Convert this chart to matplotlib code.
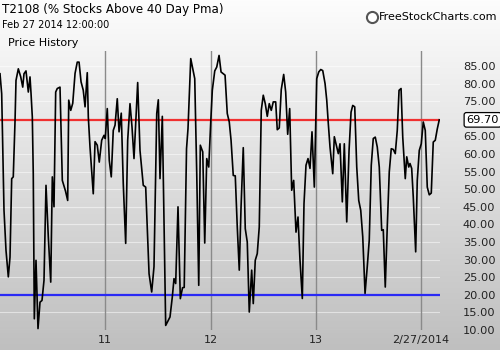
import numpy as np
import matplotlib
matplotlib.use("Agg")
import matplotlib.pyplot as plt

# years since Jan 2010
t = [0.000, 0.016, 0.038, 0.057, 0.079, 0.095, 0.111, 0.126, 0.143, 0.152,
     0.174, 0.197, 0.216, 0.228, 0.247, 0.269, 0.285, 0.295, 0.307, 0.316,
     0.326, 0.342, 0.361, 0.380, 0.399, 0.418, 0.437, 0.459, 0.482, 0.497,
     0.513, 0.529, 0.544, 0.570, 0.592, 0.622, 0.643, 0.653, 0.672, 0.691,
     0.713, 0.734, 0.751, 0.770, 0.791, 0.808, 0.829, 0.839, 0.855, 0.886,
     0.903, 0.924, 0.943, 0.966, 0.988, 1.000, 1.019, 1.038, 1.057, 1.076,
     1.093, 1.114, 1.131, 1.152, 1.171, 1.194, 1.213, 1.235, 1.254, 1.273,
     1.292, 1.308, 1.330, 1.361, 1.384, 1.416, 1.441, 1.463, 1.489, 1.504,
     1.520, 1.542, 1.574, 1.599, 1.615, 1.637, 1.653, 1.669, 1.691, 1.713,
     1.734, 1.750, 1.772, 1.786, 1.812, 1.850, 1.869, 1.888, 1.903, 1.926,
     1.945, 1.964, 1.983, 2.002, 2.017, 2.040, 2.059, 2.081, 2.100, 2.138,
     2.159, 2.178, 2.195, 2.216, 2.235, 2.254, 2.273, 2.290, 2.311, 2.330,
     2.349, 2.368, 2.391, 2.406, 2.425, 2.444, 2.463, 2.482, 2.501, 2.520,
     2.539, 2.558, 2.577, 2.596, 2.619, 2.634, 2.653, 2.672, 2.695, 2.714,
     2.733, 2.752, 2.771, 2.790, 2.812, 2.831, 2.850, 2.872, 2.888, 2.907,
     2.926, 2.945, 2.964, 2.986, 3.009, 3.028, 3.047, 3.066, 3.088, 3.104,
     3.119, 3.135, 3.161, 3.176, 3.199, 3.214, 3.230, 3.252, 3.271, 3.294,
     3.316, 3.335, 3.351, 3.370, 3.389, 3.408, 3.427, 3.446, 3.468, 3.489,
     3.508, 3.527, 3.546, 3.565, 3.584, 3.603, 3.626, 3.641, 3.660, 3.679,
     3.698, 3.717, 3.736, 3.755, 3.774, 3.791, 3.810, 3.826, 3.850, 3.864,
     3.883, 3.895, 3.911, 3.926, 3.949, 3.964, 3.983, 4.002, 4.021, 4.040,
     4.059, 4.078, 4.097, 4.116, 4.135, 4.154, 4.173]

t2108 = [82.8, 77.1, 44.0, 32.6, 25.1, 30.7, 53.0, 53.5, 69.6, 80.9,
         84.2, 81.9, 79.0, 82.8, 83.6, 77.6, 81.9, 77.1, 70.5, 54.4,
         13.2, 29.8, 10.4, 17.9, 18.4, 24.1, 51.1, 36.4, 23.6, 53.5,
         45.0, 77.6, 78.6, 79.0, 52.5, 49.5, 46.8, 75.3, 72.4, 74.4,
         82.9, 86.1, 86.1, 80.5, 78.1, 73.4, 83.1, 70.5, 62.0, 48.7,
         63.5, 62.5, 57.7, 63.9, 65.3, 64.4, 72.9, 58.2, 53.5, 66.7,
         68.2, 75.7, 66.3, 71.6, 51.6, 34.6, 63.9, 74.3, 67.7, 58.7,
         70.5, 80.3, 61.0, 51.1, 50.6, 26.0, 20.8, 28.0, 71.5, 75.4,
         53.0, 70.7, 11.3, 12.8, 13.7, 19.4, 24.6, 23.2, 45.0, 18.9,
         22.0, 22.1, 61.5, 67.2, 87.1, 81.4, 54.4, 22.7, 62.5, 60.6,
         34.7, 58.7, 56.3, 69.1, 78.1, 83.6, 84.7, 88.0, 83.3, 82.4,
         71.5, 69.1, 63.9, 53.9, 53.8, 39.3, 27.0, 45.0, 61.8, 38.8,
         35.0, 15.1, 27.0, 17.5, 29.8, 31.7, 39.3, 72.4, 76.7, 74.3,
         70.7, 74.3, 72.4, 74.8, 74.8, 66.9, 67.4, 78.3, 82.6, 77.6,
         65.6, 72.9, 49.7, 52.5, 37.8, 42.1, 29.8, 18.95, 45.9, 56.8,
         58.7, 55.9, 66.3, 50.6, 81.4, 83.3, 84.0, 83.7, 80.0, 75.3,
         68.6, 62.0, 54.4, 64.9, 62.0, 60.1, 62.9, 46.4, 62.9, 40.7,
         61.0, 71.9, 73.8, 73.4, 56.3, 46.8, 44.0, 36.5, 20.4, 28.0,
         35.6, 56.8, 64.4, 64.8, 62.0, 56.3, 38.3, 38.5, 22.2, 39.3,
         54.9, 61.5, 61.3, 60.1, 66.7, 78.1, 78.6, 64.8, 53.0, 59.2,
         56.3, 57.3, 55.9, 47.8, 32.2, 52.5, 61.0, 62.9, 69.1, 66.7,
         50.6, 48.4, 48.9, 63.4, 63.9, 67.1, 69.7]

x_ticks = [1, 2, 3, 4]
x_labels = ["11", "12", "13", "2/27/2014"]
grid_levels = [10, 15, 20, 25, 30, 35, 40, 45, 50, 55, 60, 65, 70, 75, 80, 85]
y_ticks = [10, 15, 20, 25, 30, 35, 40, 45, 50, 55, 60, 65, 75, 80, 85]
upper_level = 69.70
lower_level = 20.0
last_value = 69.70

fig = plt.figure(figsize=(5, 3.5), dpi=100)

# grey gradient behind the whole picture
bg = fig.add_axes([0, 0, 1, 1], zorder=0)
shade = np.linspace(253, 191, 350)[:, None, None] / 255.0
bg.imshow(np.repeat(shade, 3, axis=2), aspect="auto", extent=[0, 1, 0, 1])
bg.axis("off")

ax = fig.add_axes([0, 20 / 350, 440 / 500, 279 / 350], zorder=1)
ax.patch.set_alpha(0)
for s in ax.spines.values():
    s.set_visible(False)

ax.set_xlim(0, 4.18)
ax.set_ylim(10, 89.26)

for yv in grid_levels:
    ax.axhline(yv, color="white", lw=0.8, alpha=0.5, zorder=1)
for xv in x_ticks:
    ax.axvline(xv, color="#8a8a8a", lw=1.0, zorder=1)

ax.axhline(upper_level, color="#f03030", lw=1.6, zorder=2)
ax.axhline(lower_level, color="#2a2af5", lw=1.6, zorder=2)
ax.plot(t, t2108, color="black", lw=1.2, zorder=3)

ax.set_xticks(x_ticks)
ax.set_xticklabels(x_labels, fontsize=8, color="#222222")
ax.tick_params(axis="x", length=0, pad=3.5)
ax.yaxis.tick_right()
ax.set_yticks(y_ticks)
ax.set_yticklabels([f"{v:.2f}" for v in y_ticks], fontsize=8.2, color="#222222")
ax.tick_params(axis="y", length=0, pad=16.5)

ax.annotate(f"{last_value:.2f}", xy=(1.06, last_value),
            xycoords=("axes fraction", "data"), va="center", ha="left",
            fontsize=8.2, color="black",
            bbox=dict(boxstyle="round,pad=0.2", fc="white", ec="black", lw=0.9))

fig.text(0.004, 1 - 10 / 350, "T2108 (% Stocks Above 40 Day Pma)",
         fontsize=8.6, va="center", ha="left", color="black")
fig.text(0.004, 1 - 25 / 350, "Feb 27 2014 12:00:00",
         fontsize=7, va="center", ha="left", color="black")
fig.text(0.016, 1 - 43 / 350, "Price History",
         fontsize=8, va="center", ha="left", color="black")
fig.text(0.994, 1 - 17 / 350, "FreeStockCharts.com",
         fontsize=8, va="center", ha="right", color="black")
fig.add_artist(plt.Line2D([372 / 500], [1 - 17 / 350], marker="o",
                          markersize=8, markerfacecolor="white",
                          markeredgecolor="#555555", markeredgewidth=1.5))

fig.savefig("out.png", dpi=100)
